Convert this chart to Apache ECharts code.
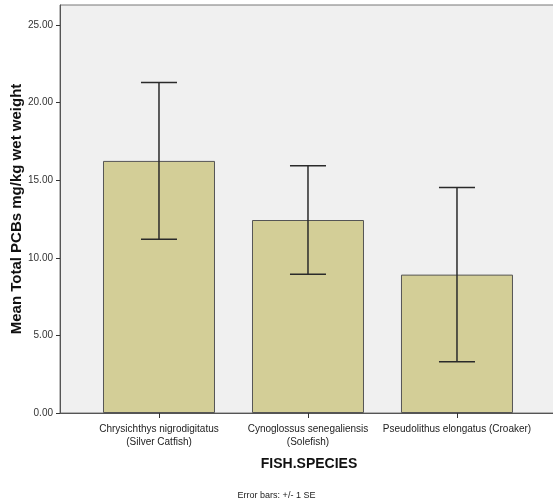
<!DOCTYPE html>
<html>
<head>
<meta charset="utf-8">
<script src="https://cdn.jsdelivr.net/npm/echarts@6/dist/echarts.min.js"></script>
<style>
  html, body { margin: 0; padding: 0; background: #fff; }
  #chart { width: 553px; height: 501px; }
</style>
</head>
<body>
<div id="chart"></div>
<script>
// species on the x axis
const species = [
  'Chrysichthys nigrodigitatus\n(Silver Catfish)',
  'Cynoglossus senegaliensis\n(Solefish)',
  'Pseudolithus elongatus (Croaker)'
]
// mean total PCBs (mg/kg wet weight)
const means = [16.25, 12.44, 8.92]
// +/- 1 SE
const stdErr = [5.05, 3.5, 5.62]
const yTicks = [0, 5, 10, 15, 20, 25]

const font = 'Liberation Sans, Arial, sans-serif'
const chart = echarts.init(document.getElementById('chart'))

chart.setOption({
  animation: false,
  textStyle: { fontFamily: font },
  title: {
    text: 'Error bars: +/- 1 SE',
    left: 'center',
    top: 486,
    textStyle: { fontSize: 9, fontWeight: 'normal', color: '#222', fontFamily: font }
  },
  grid: {
    left: 60,
    top: 5,
    right: -5,
    bottom: 88,
    outerBoundsMode: 'none',
    containLabel: false,
    show: true,
    backgroundColor: '#f0f0f0',
    borderColor: '#777',
    borderWidth: 1
  },
  xAxis: {
    type: 'value',
    min: -0.6644,
    max: 2.678,
    splitLine: { show: false },
    axisLine: { onZero: false, lineStyle: { color: '#555', width: 1 } },
    axisTick: { show: true, length: 5, customValues: [0, 1, 2], lineStyle: { color: '#333' } },
    axisLabel: {
      customValues: [0, 1, 2],
      formatter: v => species[Math.round(v)],
      fontSize: 10,
      color: '#222',
      margin: 10,
      lineHeight: 13
    },
    name: 'FISH.SPECIES',
    nameLocation: 'middle',
    nameGap: 44,
    nameMoveOverlap: false,
    nameTextStyle: { fontSize: 14, fontWeight: 'bold', color: '#111' }
  },
  yAxis: {
    type: 'value',
    min: 0,
    max: 26.3,
    splitLine: { show: false },
    axisLine: { show: true, onZero: false, lineStyle: { color: '#555', width: 1 } },
    axisTick: { show: true, length: 4, customValues: yTicks, lineStyle: { color: '#333' } },
    axisLabel: {
      customValues: yTicks,
      formatter: v => v.toFixed(2),
      fontSize: 10,
      color: '#333',
      margin: 7
    },
    name: 'Mean Total PCBs mg/kg wet weight',
    nameLocation: 'middle',
    nameGap: 36,
    nameMoveOverlap: false,
    nameTextStyle: { fontSize: 15, fontWeight: 'bold', color: '#111' }
  },
  series: [
    {
      type: 'bar',
      barWidth: 112,
      data: means.map((m, i) => [i, m]),
      itemStyle: { color: '#d3ce97', borderColor: '#555', borderWidth: 1 }
    },
    {
      type: 'custom',
      data: means.map((m, i) => [i, m - stdErr[i], m + stdErr[i]]),
      renderItem: (params, api) => {
        const lo = api.coord([api.value(0), api.value(1)])
        const hi = api.coord([api.value(0), api.value(2)])
        const half = 18
        const style = { stroke: '#2a2a2a', lineWidth: 1.5 }
        return {
          type: 'group',
          children: [
            { type: 'line', shape: { x1: hi[0], y1: hi[1], x2: lo[0], y2: lo[1] }, style },
            { type: 'line', shape: { x1: hi[0] - half, y1: hi[1], x2: hi[0] + half, y2: hi[1] }, style },
            { type: 'line', shape: { x1: lo[0] - half, y1: lo[1], x2: lo[0] + half, y2: lo[1] }, style }
          ]
        }
      },
      z: 10
    }
  ]
})
</script>
</body>
</html>
